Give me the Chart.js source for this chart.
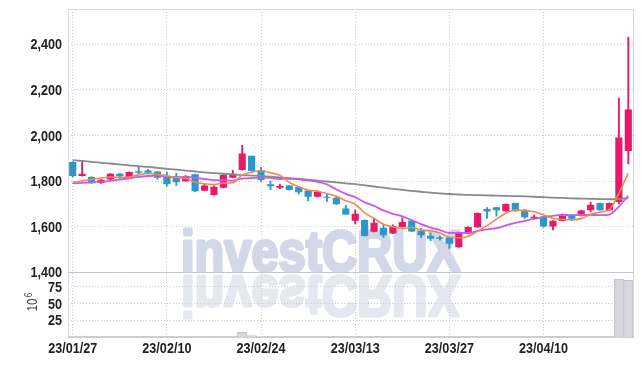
<!DOCTYPE html>
<html><head><meta charset="utf-8">
<script src="https://cdn.jsdelivr.net/npm/chart.js@4.4.0/dist/chart.umd.min.js"></script>
<style>html,body{margin:0;padding:0;background:#fff;overflow:hidden}canvas{display:block}</style>
</head><body>
<canvas id="c" width="642" height="366"></canvas>
<script>
const dates = ['23/01/27','23/01/30','23/01/31','23/02/01','23/02/02','23/02/03','23/02/06','23/02/07','23/02/08','23/02/09',
'23/02/10','23/02/13','23/02/14','23/02/15','23/02/16','23/02/17','23/02/20','23/02/21','23/02/22','23/02/23',
'23/02/24','23/02/27','23/02/28','23/03/02','23/03/03','23/03/06','23/03/07','23/03/08','23/03/09','23/03/10',
'23/03/13','23/03/14','23/03/15','23/03/16','23/03/17','23/03/20','23/03/21','23/03/22','23/03/23','23/03/24',
'23/03/27','23/03/28','23/03/29','23/03/30','23/03/31','23/04/03','23/04/04','23/04/05','23/04/06','23/04/07',
'23/04/10','23/04/11','23/04/12','23/04/13','23/04/14','23/04/17','23/04/18','23/04/19','23/04/20','23/04/21'];
const openP = [1882,1823,1816,1793,1808,1831,1819,1842,1845,1840, 1819,1819,1801,1828,1759,1740,1772,1816,1850,1909,
1847,1784,1772,1779,1772,1757,1733,1730,1725,1678, 1627,1627,1579,1593,1571,1600,1624,1580,1558,1552,
1551,1511,1570,1599,1676,1683,1669,1702,1673,1638, 1643,1602,1626,1651,1655,1673,1702,1673,1709,1933];
const highP = [1885,1885,1820,1806,1833,1834,1840,1860,1851,1842, 1838,1834,1824,1830,1787,1779,1830,1847,1957,1910,
1860,1801,1787,1781,1773,1758,1757,1743,1734,1693, 1674,1630,1637,1608,1608,1639,1630,1592,1573,1560,
1553,1572,1600,1660,1683,1684,1700,1703,1675,1651, 1645,1626,1655,1653,1673,1708,1703,1704,2164,2432];
const lowP = [1818,1821,1790,1790,1806,1808,1817,1832,1831,1808, 1778,1781,1799,1753,1757,1738,1770,1814,1848,1845,
1797,1762,1766,1760,1743,1713,1729,1711,1697,1653, 1612,1558,1577,1553,1569,1597,1578,1551,1538,1540,
1504,1509,1568,1597,1636,1646,1667,1667,1636,1634, 1598,1585,1625,1626,1646,1664,1672,1671,1700,1875];
const closeP = [1823,1831,1794,1804,1831,1822,1838,1838,1838,1816, 1787,1796,1821,1757,1779,1774,1825,1831,1919,1845,
1806,1779,1777,1762,1752,1733,1752,1728,1700,1655, 1655,1560,1615,1564,1601,1619,1580,1563,1548,1548,
1526,1570,1597,1658,1668,1673,1698,1669,1643,1642, 1602,1624,1646,1636,1669,1695,1673,1702,1990,2112];
const ma5 = [1794,1801,1808,1813,1817,1816,1818,1827,1833,1830, 1823,1815,1812,1795,1788,1785,1791,1793,1826,1839,
1845,1836,1825,1794,1775,1761,1755,1745,1733,1714, 1698,1660,1637,1610,1599,1592,1596,1585,1582,1572,
1553,1551,1558,1580,1604,1633,1659,1673,1670,1665, 1651,1636,1631,1630,1635,1654,1664,1675,1746,1834];
const ma10 = [1790,1792,1794,1797,1801,1806,1812,1818,1822,1824, 1820,1816,1819,1814,1809,1804,1803,1802,1811,1813,
1815,1814,1809,1810,1807,1803,1796,1785,1763,1744, 1729,1707,1691,1671,1656,1645,1628,1611,1596,1585,
1572,1573,1572,1581,1588,1593,1605,1616,1625,1634, 1642,1647,1652,1650,1650,1652,1650,1653,1688,1735];
const maLong = [1892,1888,1884,1880,1877,1873,1869,1865,1862,1858, 1854,1850,1846,1842,1838,1835,1832,1829,1826,1824,
1822,1819,1816,1813,1810,1806,1802,1798,1794,1790, 1786,1781,1776,1771,1766,1761,1757,1753,1749,1746,
1743,1741,1739,1738,1737,1736,1735,1734,1733,1731, 1729,1727,1726,1724,1723,1722,1721,1720,1721,1725];
const volume = [1.5,1.2,0.5,0.4,0.5,0.4,0.6,0.5,0.4,0.5, 0.6,0.5,0.4,0.7,0.5,0.6,0.8,1.0,7.0,2.0,
0.9,0.5,0.4,0.5,0.4,0.6,0.5,0.4,0.6,0.7, 0.8,0.9,0.6,0.7,0.5,0.5,0.6,0.5,0.4,0.4,
0.6,0.8,0.6,0.9,0.5,0.4,0.6,0.5,0.5,0.4, 0.6,0.5,0.5,0.4,0.5,0.7,0.5,0.6,86.5,85];
const priceTicks = [1400,1600,1800,2000,2200,2400];
const volTicks = [25,50,75];

const UP = '#e8196b', DOWN = '#2c97c8';
const candleColors = closeP.map((c,i)=> c >= openP[i] ? UP : DOWN);
const bodies = openP.map((o,i)=>[o, closeP[i]]);
const wicks = lowP.map((l,i)=>[l, highP[i]]);

const FONT_FAMILY = "'Liberation Sans',Arial,sans-serif";
const hiddenTickFont = {family: FONT_FAMILY, size: 1};
const LABEL_FONT = "bold 15px " + FONT_FAMILY;
const SQUEEZE = 0.84;
const GRID = '#c8cbdd';
const HIDDEN = 'rgba(0,0,0,0)';

function squeezedText(ctx, text, x, y, align){
  ctx.save();
  ctx.translate(x, y);
  ctx.scale(SQUEEZE, 1);
  ctx.textAlign = align;
  ctx.fillText(text, 0, 0);
  ctx.restore();
}

const deco = {
  id: 'deco',
  beforeDraw(chart){
    const ctx = chart.ctx;
    ctx.save();
    ctx.fillStyle = '#fff';
    ctx.fillRect(0,0,chart.width,chart.height);
    const sep = chart.scales.y.bottom;
    ctx.font = "bold 58px " + FONT_FAMILY;
    ctx.textBaseline = 'alphabetic';
    ctx.textAlign = 'left';
    ctx.lineJoin = 'round';
    const txt = 'investCRUX';
    const sx = 279 / ctx.measureText(txt).width;
    ctx.save(); ctx.translate(181, sep - 1.5); ctx.scale(sx, 1);
    ctx.fillStyle = '#d3d8e9'; ctx.strokeStyle = '#d3d8e9'; ctx.lineWidth = 3.2;
    ctx.fillText(txt, 0, 0); ctx.strokeText(txt, 0, 0); ctx.restore();
    ctx.save(); ctx.translate(181, sep + 4); ctx.scale(sx, -1);
    ctx.fillStyle = '#e6e8f0'; ctx.strokeStyle = '#e6e8f0'; ctx.lineWidth = 3.2;
    ctx.fillText(txt, 0, 0); ctx.strokeText(txt, 0, 0); ctx.restore();
    ctx.restore();
  },
  beforeDatasetsDraw(chart){
    const ctx = chart.ctx, a = chart.chartArea;
    const sep = Math.round(chart.scales.y.bottom) + 0.5;
    ctx.save();
    ctx.lineWidth = 1;
    ctx.strokeStyle = '#d6d7e0';
    ctx.beginPath();
    ctx.moveTo(a.left + 0.5, a.bottom); ctx.lineTo(a.left + 0.5, a.top + 0.5);
    ctx.lineTo(a.right + 0.5, a.top + 0.5); ctx.lineTo(a.right + 0.5, a.bottom);
    ctx.stroke();
    ctx.strokeStyle = '#c6c6ce';
    ctx.beginPath(); ctx.moveTo(a.left, sep); ctx.lineTo(a.right, sep); ctx.stroke();
    ctx.strokeStyle = '#bdbdc6'; ctx.lineWidth = 1.5;
    ctx.beginPath(); ctx.moveTo(a.left, a.bottom); ctx.lineTo(a.right + 1, a.bottom); ctx.stroke();
    ctx.restore();
  },
  afterDraw(chart){
    const ctx = chart.ctx;
    const {x, y, yv} = chart.scales;
    ctx.save();
    ctx.fillStyle = '#222';
    ctx.font = LABEL_FONT;
    ctx.textBaseline = 'middle';
    priceTicks.forEach(v => squeezedText(ctx, v.toLocaleString('en-US'), y.right - 6, y.getPixelForValue(v) + 1, 'right'));
    volTicks.forEach(v => squeezedText(ctx, String(v), yv.right - 6, yv.getPixelForValue(v) + 1, 'right'));
    dates.forEach((d, i) => { if (i % 10 === 0) squeezedText(ctx, d, x.getPixelForValue(i), x.top + 12, 'center'); });
    ctx.restore();

    const cy = (yv.top + yv.bottom) / 2 + 1;
    ctx.save();
    ctx.translate(33, cy);
    ctx.rotate(-Math.PI/2);
    ctx.fillStyle = '#444';
    ctx.textBaseline = 'middle';
    ctx.textAlign = 'left';
    ctx.font = "14px " + FONT_FAMILY;
    ctx.scale(SQUEEZE, 1);
    ctx.fillText('10', -7, 0);
    ctx.font = "10px " + FONT_FAMILY;
    ctx.fillText('6', 10, -4);
    ctx.restore();
  }
};

new Chart(document.getElementById('c'), {
  type: 'bar',
  data: {
    labels: dates,
    datasets: [
      {type:'line', label:'MA5', data: ma5, yAxisID:'y', borderColor:'#f0894c', borderWidth:1.6, pointRadius:0, cubicInterpolationMode:'monotone', order:0},
      {type:'line', label:'MA10', data: ma10, yAxisID:'y', borderColor:'#ca5ae6', borderWidth:1.8, pointRadius:0, cubicInterpolationMode:'monotone', order:1},
      {type:'line', label:'MA long', data: maLong, yAxisID:'y', borderColor:'#8a8a8e', borderWidth:1.8, pointRadius:0, cubicInterpolationMode:'monotone', order:2},
      {label:'body', data: bodies, yAxisID:'y', backgroundColor: candleColors, barThickness: 6.5, grouped:false, order:3},
      {label:'wick', data: wicks, yAxisID:'y', backgroundColor: candleColors, barThickness: 1.2, grouped:false, order:4},
      {label:'volume', data: volume, yAxisID:'yv', backgroundColor:'#d6d6de', borderColor:'#c2c2cb', borderWidth:1, barPercentage:1, categoryPercentage:1, grouped:false, order:5}
    ]
  },
  options: {
    responsive:false, animation:false, devicePixelRatio:1,
    layout:{padding:{top:9, right:9, left:0, bottom:0}},
    plugins:{legend:{display:false}, tooltip:{enabled:false}},
    scales:{
      x:{
        offset:true,
        grid:{offset:false, color:GRID, drawTicks:false, lineWidth:1},
        border:{display:false, dash:[1,2]},
        ticks:{autoSkip:false, maxRotation:0, minRotation:0, padding:0, color:HIDDEN, font:hiddenTickFont,
          callback:function(v, i){ return i % 10 === 0 ? this.getLabelForValue(v) : null; }},
        afterFit:(s)=>{ s.height = 29; }
      },
      yv:{
        stack:'main', stackWeight:1, position:'left', min:0, max:97,
        afterBuildTicks:(s)=>{ s.ticks = volTicks.map(v=>({value:v})); },
        grid:{color:GRID, drawTicks:false},
        border:{display:false, dash:[1,2]},
        ticks:{padding:0, color:HIDDEN, font:hiddenTickFont},
        afterFit:(s)=>{ s.width = 68; }
      },
      y:{
        stack:'main', stackWeight:4.06, position:'left', min:1400, max:2555,
        afterBuildTicks:(s)=>{ s.ticks = priceTicks.map(v=>({value:v})); },
        grid:{color:(c)=> (c.tick && c.tick.value === 1400) ? HIDDEN : GRID, drawTicks:false},
        border:{display:false, dash:[1,2]},
        ticks:{padding:0, color:HIDDEN, font:hiddenTickFont},
        afterFit:(s)=>{ s.width = 68; }
      }
    }
  },
  plugins:[deco]
});
</script>
</body></html>
